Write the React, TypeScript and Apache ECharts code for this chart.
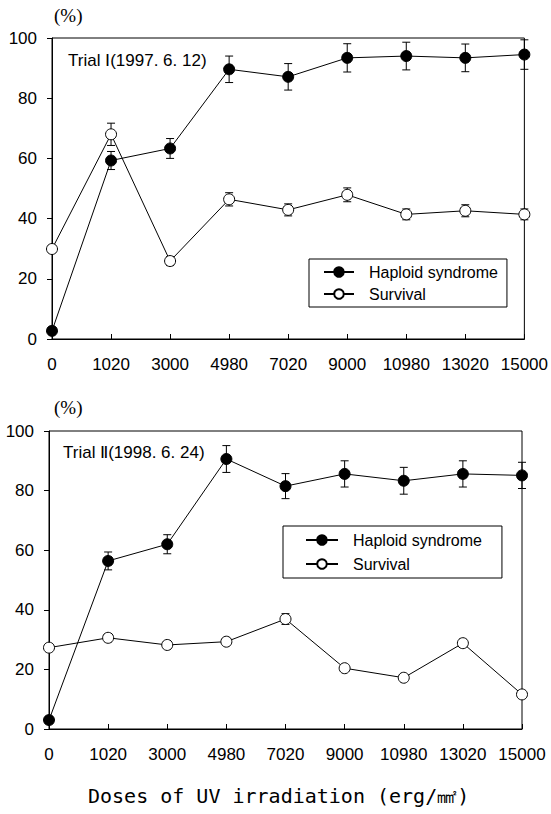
import React, { useEffect, useRef } from "react";
import * as echarts from "echarts";

const categories = ["0", "1020", "3000", "4980", "7020", "9000", "10980", "13020", "15000"];

const haploid1 = [2.7, 59.3, 63.3, 89.6, 87.1, 93.4, 94.0, 93.4, 94.5];
const haploid1Err = [0.5, 3.0, 3.3, 4.4, 4.4, 4.7, 4.6, 4.6, 4.9];
const survival1 = [29.9, 68.0, 25.9, 46.4, 42.9, 47.9, 41.4, 42.6, 41.4];
const survival1Err = [1.0, 3.7, 1.5, 2.2, 2.0, 2.3, 1.8, 2.0, 1.8];

const haploid2 = [3.0, 56.4, 62.0, 90.6, 81.5, 85.6, 83.3, 85.6, 85.1];
const haploid2Err = [0.5, 3.0, 3.2, 4.5, 4.2, 4.4, 4.5, 4.4, 4.4];
const survival2 = [27.3, 30.6, 28.2, 29.3, 36.9, 20.4, 17.2, 28.8, 11.6];
const survival2Err = [1.0, 1.3, 1.2, 1.2, 1.8, 0.8, 0.8, 1.3, 1.0];

const seriesNames = ["Haploid syndrome", "Survival"];
const trialLabels = ["Trial Ⅰ(1997. 6. 12)", "Trial Ⅱ(1998. 6. 24)"];
const yUnit = "(%)";
const xTitle = "Doses of UV irradiation (erg/㎟)";

const SANS = "Liberation Sans, Arial, sans-serif";

function errData(vals: number[], errs: number[]) {
  return vals.map((v, i) => [i, v - errs[i], v + errs[i]]);
}

function renderErr(params: any, api: any) {
  const x = api.value(0);
  const p1 = api.coord([x, api.value(1)]);
  const p2 = api.coord([x, api.value(2)]);
  const w = 4;
  const st = { stroke: "#000", lineWidth: 1 };
  return {
    type: "group",
    children: [
      { type: "line", shape: { x1: p1[0], y1: p1[1], x2: p2[0], y2: p2[1] }, style: st },
      { type: "line", shape: { x1: p1[0] - w, y1: p1[1], x2: p1[0] + w, y2: p1[1] }, style: st },
      { type: "line", shape: { x1: p2[0] - w, y1: p2[1], x2: p2[0] + w, y2: p2[1] }, style: st },
    ],
  };
}

export default function App() {
  const ref = useRef<HTMLDivElement>(null);
  useEffect(() => {
    if (!ref.current) return;
    const chart = echarts.init(ref.current, null, { renderer: "svg" });

    const xAxisBase = (gi: number) => ({
      type: "category",
      gridIndex: gi,
      data: categories,
      boundaryGap: false,
      axisLine: { lineStyle: { color: "#000", width: 1 } },
      axisTick: { inside: true, length: 5, alignWithLabel: true, lineStyle: { color: "#000" } },
      axisLabel: { interval: 0, color: "#000", fontSize: 17, fontFamily: SANS, margin: 17 },
      splitLine: { show: false },
    });
    const yAxisBase = (gi: number) => ({
      type: "value",
      gridIndex: gi,
      min: 0,
      max: 100,
      interval: 20,
      axisLine: { show: true, lineStyle: { color: "#000", width: 1 } },
      axisTick: { show: true, length: 5, lineStyle: { color: "#000" } },
      axisLabel: { color: "#000", fontSize: 17, fontFamily: SANS, margin: 15 },
      splitLine: { show: false },
    });

    const lineSeries = (name: string, gi: number, data: number[], filled: boolean) => ({
      name,
      type: "line",
      xAxisIndex: gi,
      yAxisIndex: gi,
      data,
      symbol: "circle",
      symbolSize: 11,
      showAllSymbol: true,
      z: 3,
      lineStyle: { color: "#000", width: 1 },
      itemStyle: filled
        ? { color: "#000", borderColor: "#000", borderWidth: 1 }
        : { color: "#fff", borderColor: "#000", borderWidth: 1 },
    });

    const errSeries = (gi: number, vals: number[], errs: number[]) => ({
      name: "err" + gi + vals[0],
      type: "custom",
      xAxisIndex: gi,
      yAxisIndex: gi,
      data: errData(vals, errs),
      renderItem: renderErr,
      encode: { x: 0, y: [1, 2] },
      z: 2,
      silent: true,
    });

    const legendBase = {
      orient: "vertical",
      borderColor: "#000",
      borderWidth: 1,
      itemWidth: 30,
      itemHeight: 12,
      textStyle: { color: "#000", fontSize: 16, fontFamily: SANS, padding: [0, 0, 0, 10] },
      data: seriesNames,
      selectedMode: false,
    };

    chart.setOption({
      animation: false,
      backgroundColor: "#fff",
      grid: [
        { left: 52, top: 38, width: 474, height: 301, show: true, borderColor: "#000", borderWidth: 1 },
        { left: 49, top: 431, width: 473, height: 298, show: true, borderColor: "#000", borderWidth: 1 },
      ],
      xAxis: [xAxisBase(0), xAxisBase(1)],
      yAxis: [yAxisBase(0), yAxisBase(1)],
      legend: [
        { ...legendBase, left: 309, top: 259, padding: [5, 9, 5, 14], itemGap: 6 },
        { ...legendBase, left: 283, top: 526, padding: [6, 20, 6, 22], itemGap: 8, itemWidth: 32 },
      ],
      series: [
        errSeries(0, haploid1, haploid1Err),
        errSeries(0, survival1, survival1Err),
        lineSeries(seriesNames[0], 0, haploid1, true),
        lineSeries(seriesNames[1], 0, survival1, false),
        errSeries(1, haploid2, haploid2Err),
        errSeries(1, survival2, survival2Err),
        lineSeries(seriesNames[0], 1, haploid2, true),
        lineSeries(seriesNames[1], 1, survival2, false),
      ],
      graphic: [
        { type: "text", left: 54, top: 6, style: { text: yUnit, fontSize: 19, fontFamily: "Liberation Serif, serif", fill: "#000" } },
        { type: "text", left: 54, top: 398, style: { text: yUnit, fontSize: 19, fontFamily: "Liberation Serif, serif", fill: "#000" } },
        { type: "text", left: 68, top: 52, style: { text: trialLabels[0], fontSize: 17, fontFamily: SANS, fill: "#000" } },
        { type: "text", left: 63, top: 444, style: { text: trialLabels[1], fontSize: 17, fontFamily: SANS, fill: "#000" } },
        {
          type: "text",
          x: 88,
          y: 796,
          style: {
            text: xTitle,
            fontSize: 20,
            fontFamily: "DejaVu Sans Mono, Liberation Mono, monospace",
            fill: "#000",
            verticalAlign: "middle",
            align: "left",
          },
        },
      ],
    });
    return () => chart.dispose();
  }, []);
  return (
    <div
      ref={ref}
      style={{ position: "absolute", left: 0, top: 0, width: 551, height: 814, background: "#fff" }}
    />
  );
}
